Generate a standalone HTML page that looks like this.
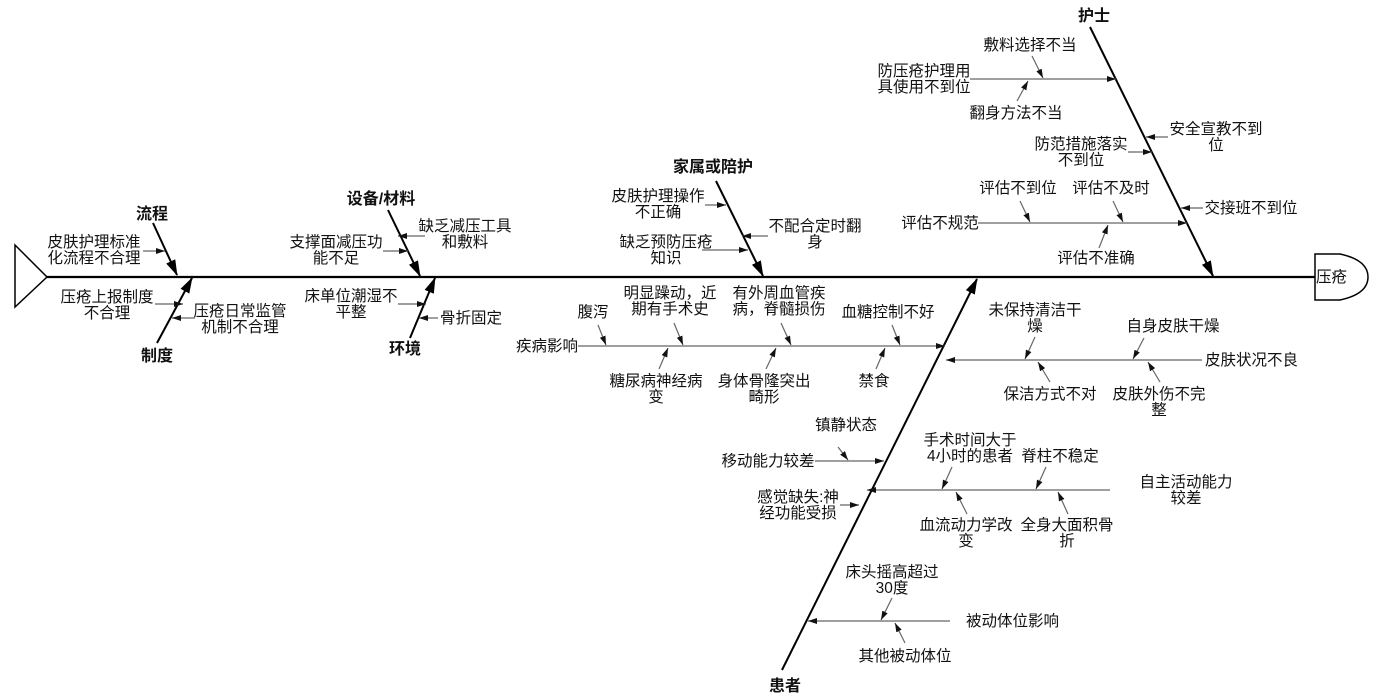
<!DOCTYPE html>
<html><head><meta charset="utf-8"><style>
html,body{margin:0;padding:0;background:#fff;}
svg{display:block;}
text{font-family:"Liberation Sans","Noto Sans CJK SC",sans-serif;font-size:15.5px;fill:#111;}
.b{font-weight:bold;font-size:16px;}
.s{stroke:#666;stroke-width:1.2;fill:none;}
.m{stroke:#000;stroke-width:2;fill:none;}
</style></head><body>
<svg width="1382" height="696" viewBox="0 0 1382 696" xmlns="http://www.w3.org/2000/svg">
<defs>
<marker id="big" markerWidth="16" markerHeight="10" refX="15" refY="5" orient="auto" markerUnits="userSpaceOnUse"><path d="M0,0 L16,5 L0,10 z" fill="#000"/></marker>
<marker id="sm" markerWidth="9" markerHeight="6" refX="9" refY="3" orient="auto" markerUnits="userSpaceOnUse"><path d="M0,0 L9,3 L0,6 z" fill="#111"/></marker>
</defs>
<polygon points="15,245 15,307 47,277" fill="#fff" stroke="#000" stroke-width="1.5"/>
<line x1="47" y1="277" x2="1315" y2="277" stroke="#000" stroke-width="2.2"/>
<path d="M1315,254 L1340,254 Q1368,260 1368,277 Q1368,294 1340,300 L1315,300 Z" fill="#fff" stroke="#000" stroke-width="1.5"/>
<text x="1316" y="282">压疮</text>

<line class="m" x1="153" y1="223" x2="177" y2="275" marker-end="url(#big)"/>
<text class="b" x="152" y="219" text-anchor="middle">流程</text>
<line class="m" x1="157" y1="343" x2="192" y2="278" marker-end="url(#big)"/>
<text class="b" x="157" y="361" text-anchor="middle">制度</text>
<line class="m" x1="388" y1="210" x2="420" y2="276" marker-end="url(#big)"/>
<text class="b" x="381" y="204" text-anchor="middle">设备/材料</text>
<line class="m" x1="410" y1="338" x2="435" y2="278" marker-end="url(#big)"/>
<text class="b" x="405" y="354" text-anchor="middle">环境</text>
<line class="m" x1="716" y1="181" x2="763" y2="276" marker-end="url(#big)"/>
<text class="b" x="713" y="172" text-anchor="middle">家属或陪护</text>
<line class="m" x1="1090" y1="27" x2="1213" y2="276" marker-end="url(#big)"/>
<text class="b" x="1094" y="21" text-anchor="middle">护士</text>
<line class="m" x1="782" y1="670" x2="977" y2="279" marker-end="url(#big)"/>
<text class="b" x="785" y="691" text-anchor="middle">患者</text>

<text x="94" y="247" text-anchor="middle"><tspan x="94">皮肤护理标准</tspan><tspan x="94" dy="16">化流程不合理</tspan></text>
<line class="s" x1="143" y1="251" x2="165" y2="251" marker-end="url(#sm)"/>
<text x="107" y="302" text-anchor="middle"><tspan x="107">压疮上报制度</tspan><tspan x="107" dy="16">不合理</tspan></text>
<line class="s" x1="155" y1="304" x2="183" y2="304" marker-end="url(#sm)"/>
<text x="240" y="316" text-anchor="middle"><tspan x="240">压疮日常监管</tspan><tspan x="240" dy="16">机制不合理</tspan></text>
<line class="s" x1="195" y1="318" x2="172" y2="318" marker-end="url(#sm)"/>

<text x="336" y="247" text-anchor="middle"><tspan x="336">支撑面减压功</tspan><tspan x="336" dy="16">能不足</tspan></text>
<line class="s" x1="383" y1="251" x2="408" y2="251" marker-end="url(#sm)"/>
<text x="465" y="231" text-anchor="middle"><tspan x="465">缺乏减压工具</tspan><tspan x="465" dy="16">和敷料</tspan></text>
<line class="s" x1="425" y1="236" x2="398" y2="236" marker-end="url(#sm)"/>
<text x="351" y="301" text-anchor="middle"><tspan x="351">床单位潮湿不</tspan><tspan x="351" dy="16">平整</tspan></text>
<line class="s" x1="398" y1="304" x2="426" y2="304" marker-end="url(#sm)"/>
<text x="440" y="323">骨折固定</text>
<line class="s" x1="438" y1="318" x2="419" y2="318" marker-end="url(#sm)"/>

<text x="658" y="201" text-anchor="middle"><tspan x="658">皮肤护理操作</tspan><tspan x="658" dy="16">不正确</tspan></text>
<line class="s" x1="705" y1="205" x2="726" y2="205" marker-end="url(#sm)"/>
<text x="666" y="247" text-anchor="middle"><tspan x="666">缺乏预防压疮</tspan><tspan x="666" dy="16">知识</tspan></text>
<line class="s" x1="702" y1="250" x2="748" y2="250" marker-end="url(#sm)"/>
<text x="815" y="231" text-anchor="middle"><tspan x="815">不配合定时翻</tspan><tspan x="815" dy="16">身</tspan></text>
<line class="s" x1="768" y1="236" x2="742" y2="236" marker-end="url(#sm)"/>

<text x="924" y="76" text-anchor="middle"><tspan x="924">防压疮护理用</tspan><tspan x="924" dy="16">具使用不到位</tspan></text>
<line class="s" x1="970" y1="79" x2="1116" y2="79" marker-end="url(#sm)"/>
<text x="1030" y="50" text-anchor="middle">敷料选择不当</text>
<line class="s" x1="1032" y1="56" x2="1043" y2="78" marker-end="url(#sm)"/>
<text x="1016" y="118" text-anchor="middle">翻身方法不当</text>
<line class="s" x1="1017" y1="101" x2="1028" y2="81" marker-end="url(#sm)"/>
<text x="1216" y="134" text-anchor="middle"><tspan x="1216">安全宣教不到</tspan><tspan x="1216" dy="16">位</tspan></text>
<line class="s" x1="1168" y1="137" x2="1146" y2="137" marker-end="url(#sm)"/>
<text x="1081" y="149" text-anchor="middle"><tspan x="1081">防范措施落实</tspan><tspan x="1081" dy="16">不到位</tspan></text>
<line class="s" x1="1128" y1="152" x2="1152" y2="152" marker-end="url(#sm)"/>
<text x="940" y="228" text-anchor="middle">评估不规范</text>
<line class="s" x1="978" y1="223" x2="1187" y2="223" marker-end="url(#sm)"/>
<text x="1018" y="193" text-anchor="middle">评估不到位</text>
<line class="s" x1="1020" y1="201" x2="1030" y2="222" marker-end="url(#sm)"/>
<text x="1111" y="193" text-anchor="middle">评估不及时</text>
<line class="s" x1="1113" y1="201" x2="1123" y2="222" marker-end="url(#sm)"/>
<text x="1096" y="263" text-anchor="middle">评估不准确</text>
<line class="s" x1="1099" y1="248" x2="1108" y2="225" marker-end="url(#sm)"/>
<text x="1251" y="213" text-anchor="middle">交接班不到位</text>
<line class="s" x1="1203" y1="208" x2="1181" y2="208" marker-end="url(#sm)"/>

<text x="547" y="351" text-anchor="middle">疾病影响</text>
<line class="s" x1="578" y1="346" x2="945" y2="346" marker-end="url(#sm)"/>
<text x="593" y="317" text-anchor="middle">腹泻</text>
<line class="s" x1="598" y1="325" x2="606" y2="345" marker-end="url(#sm)"/>
<text x="670" y="298" text-anchor="middle"><tspan x="670">明显躁动，近</tspan><tspan x="670" dy="16">期有手术史</tspan></text>
<line class="s" x1="674" y1="323" x2="683" y2="345" marker-end="url(#sm)"/>
<text x="779" y="298" text-anchor="middle"><tspan x="779">有外周血管疾</tspan><tspan x="779" dy="16">病，脊髓损伤</tspan></text>
<line class="s" x1="781" y1="323" x2="791" y2="345" marker-end="url(#sm)"/>
<text x="888" y="317" text-anchor="middle">血糖控制不好</text>
<line class="s" x1="892" y1="325" x2="900" y2="345" marker-end="url(#sm)"/>
<text x="656" y="386" text-anchor="middle"><tspan x="656">糖尿病神经病</tspan><tspan x="656" dy="16">变</tspan></text>
<line class="s" x1="659" y1="369" x2="668" y2="348" marker-end="url(#sm)"/>
<text x="764" y="386" text-anchor="middle"><tspan x="764">身体骨隆突出</tspan><tspan x="764" dy="16">畸形</tspan></text>
<line class="s" x1="766" y1="369" x2="776" y2="348" marker-end="url(#sm)"/>
<text x="874" y="386" text-anchor="middle">禁食</text>
<line class="s" x1="876" y1="369" x2="885" y2="348" marker-end="url(#sm)"/>

<text x="1205" y="365">皮肤状况不良</text>
<line class="s" x1="1202" y1="360" x2="946" y2="360" marker-end="url(#sm)"/>
<text x="1035" y="315" text-anchor="middle"><tspan x="1035">未保持清洁干</tspan><tspan x="1035" dy="16">燥</tspan></text>
<line class="s" x1="1035" y1="337" x2="1025" y2="359" marker-end="url(#sm)"/>
<text x="1173" y="331" text-anchor="middle">自身皮肤干燥</text>
<line class="s" x1="1144" y1="338" x2="1133" y2="359" marker-end="url(#sm)"/>
<text x="1050" y="399" text-anchor="middle">保洁方式不对</text>
<line class="s" x1="1050" y1="382" x2="1038" y2="362" marker-end="url(#sm)"/>
<text x="1159" y="399" text-anchor="middle"><tspan x="1159">皮肤外伤不完</tspan><tspan x="1159" dy="16">整</tspan></text>
<line class="s" x1="1160" y1="382" x2="1148" y2="362" marker-end="url(#sm)"/>

<text x="768" y="466" text-anchor="middle">移动能力较差</text>
<line class="s" x1="815" y1="461" x2="884" y2="461" marker-end="url(#sm)"/>
<text x="846" y="430" text-anchor="middle">镇静状态</text>
<line class="s" x1="838" y1="447" x2="848" y2="460" marker-end="url(#sm)"/>

<text x="1186" y="487" text-anchor="middle"><tspan x="1186">自主活动能力</tspan><tspan x="1186" dy="16">较差</tspan></text>
<line class="s" x1="1110" y1="490" x2="867" y2="490" marker-end="url(#sm)"/>
<text x="970" y="445" text-anchor="middle"><tspan x="970">手术时间大于</tspan><tspan x="970" dy="16">4小时的患者</tspan></text>
<line class="s" x1="952" y1="467" x2="942" y2="489" marker-end="url(#sm)"/>
<text x="1060" y="461" text-anchor="middle">脊柱不稳定</text>
<line class="s" x1="1046" y1="467" x2="1036" y2="489" marker-end="url(#sm)"/>
<text x="966" y="530" text-anchor="middle"><tspan x="966">血流动力学改</tspan><tspan x="966" dy="16">变</tspan></text>
<line class="s" x1="967" y1="514" x2="956" y2="492" marker-end="url(#sm)"/>
<text x="1067" y="530" text-anchor="middle"><tspan x="1067">全身大面积骨</tspan><tspan x="1067" dy="16">折</tspan></text>
<line class="s" x1="1068" y1="514" x2="1058" y2="492" marker-end="url(#sm)"/>

<text x="798" y="502" text-anchor="middle"><tspan x="798">感觉缺失:神</tspan><tspan x="798" dy="16">经功能受损</tspan></text>
<line class="s" x1="840" y1="505" x2="859" y2="505" marker-end="url(#sm)"/>

<text x="966" y="626">被动体位影响</text>
<line class="s" x1="950" y1="621" x2="808" y2="621" marker-end="url(#sm)"/>
<text x="892" y="577" text-anchor="middle"><tspan x="892">床头摇高超过</tspan><tspan x="892" dy="16">30度</tspan></text>
<line class="s" x1="892" y1="598" x2="881" y2="620" marker-end="url(#sm)"/>
<text x="905" y="661" text-anchor="middle">其他被动体位</text>
<line class="s" x1="905" y1="643" x2="895" y2="623" marker-end="url(#sm)"/>
</svg>
</body></html>
